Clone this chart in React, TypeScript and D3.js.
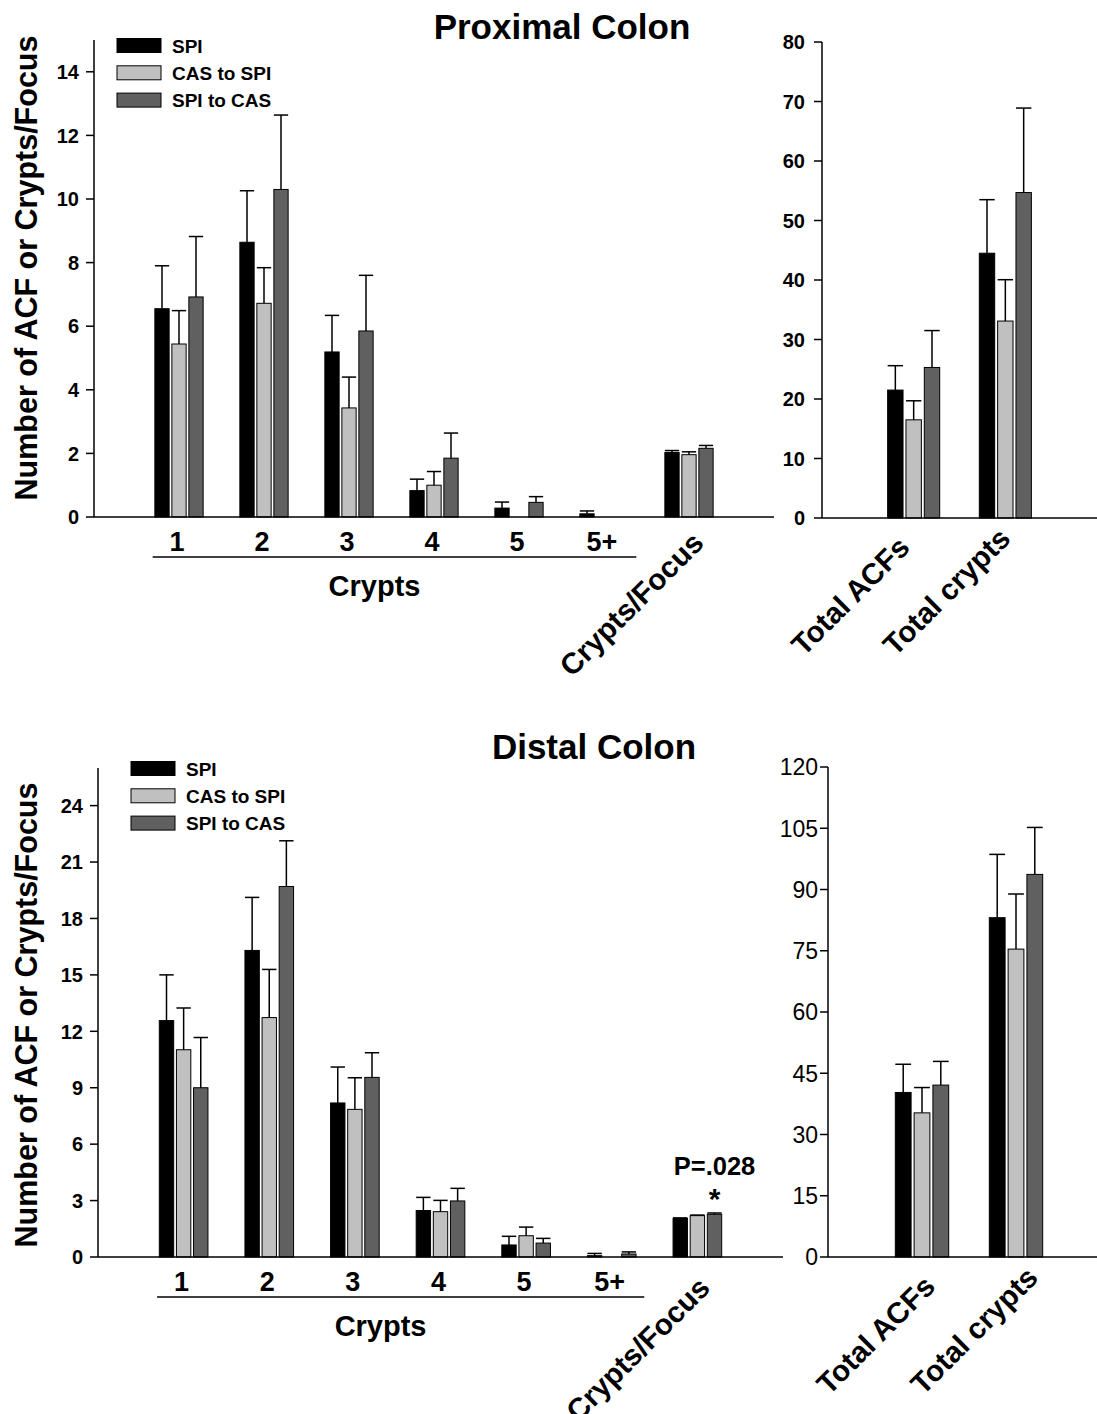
import React from 'react';
import * as d3 from 'd3';

// legend / series
const SERIES = ['SPI', 'CAS to SPI', 'SPI to CAS'];
const FILLS = ['#000000', '#c0c0c0', '#606060'];

// categories
const CRYPT_LABELS = ['1', '2', '3', '4', '5', '5+'];
const FOCUS_LABEL = 'Crypts/Focus';
const TOTAL_LABELS = ['Total ACFs', 'Total crypts'];

// Proximal colon: crypts 1,2,3,4,5,5+ then crypts/focus
const proxSpi = [6.55, 8.64, 5.19, 0.83, 0.28, 0.1, 2.03];
const proxSpiSe = [1.35, 1.62, 1.15, 0.36, 0.19, 0.09, 0.06];
const proxCasSpi = [5.44, 6.72, 3.43, 1.0, 0, 0, 1.96];
const proxCasSpiSe = [1.05, 1.12, 0.97, 0.43, 0, 0, 0.09];
const proxSpiCas = [6.92, 10.3, 5.85, 1.85, 0.46, 0, 2.16];
const proxSpiCasSe = [1.9, 2.34, 1.75, 0.79, 0.18, 0, 0.09];

// Proximal colon totals: ACFs, crypts
const proxTotSpi = [21.5, 44.5];
const proxTotSpiSe = [4.1, 9.0];
const proxTotCasSpi = [16.5, 33.1];
const proxTotCasSpiSe = [3.2, 6.95];
const proxTotSpiCas = [25.3, 54.7];
const proxTotSpiCasSe = [6.2, 14.2];

// Distal colon
const distSpi = [12.57, 16.3, 8.19, 2.47, 0.64, 0.07, 2.05];
const distSpiSe = [2.43, 2.82, 1.91, 0.7, 0.46, 0.12, 0.03];
const distCasSpi = [11.02, 12.73, 7.85, 2.41, 1.13, 0, 2.2];
const distCasSpiSe = [2.22, 2.56, 1.68, 0.6, 0.46, 0, 0.03];
const distSpiCas = [9.0, 19.7, 9.55, 2.98, 0.74, 0.16, 2.27];
const distSpiCasSe = [2.67, 2.43, 1.31, 0.67, 0.25, 0.11, 0.07];

// Distal colon totals
const distTotSpi = [40.3, 83.1];
const distTotSpiSe = [6.9, 15.5];
const distTotCasSpi = [35.3, 75.4];
const distTotCasSpiSe = [6.2, 13.5];
const distTotSpiCas = [42.1, 93.7];
const distTotSpiCasSe = [5.8, 11.5];

// tick values
const proxTicks = [0, 2, 4, 6, 8, 10, 12, 14];
const proxTotTicks = [0, 10, 20, 30, 40, 50, 60, 70, 80];
const distTicks = [0, 3, 6, 9, 12, 15, 18, 21, 24];
const distTotTicks = [0, 15, 30, 45, 60, 75, 90, 105, 120];

const TITLE_TOP = 'Proximal Colon';
const TITLE_BOTTOM = 'Distal Colon';
const Y_LABEL = 'Number of ACF or Crypts/Focus';
const X_LABEL = 'Crypts';
const P_NOTE = 'P=.028';

const FONT = "'Liberation Sans', Arial, Helvetica, sans-serif";

type PanelProps = {
  x0: number; x1: number; slots: number;
  yBase: number; yTop: number; yMax: number;
  ticks: number[];
  means: number[][]; ses: number[][];
  tickBold: boolean; tickFont: number; tickGap: number;
  baseEnd: number;
};

const Panel = ({ x0, x1, slots, yBase, yTop, yMax, ticks, means, ses, tickBold, tickFont, tickGap, baseEnd }: PanelProps) => {
  const x = d3.scaleLinear().domain([0, slots]).range([x0, x1]);
  const y = d3.scaleLinear().domain([0, yMax]).range([yBase, yTop]);
  const slot = x(1) - x(0);
  const step = slot * 0.2;
  const bw = slot * 0.168;

  return (
    <g>
      {/* bars */}
      {means.map((ser, s) =>
        ser.map((v, i) => {
          if (v <= 0) return null;
          const cx = x(i + 1) + (s - 1) * step;
          return (
            <rect key={`b-${s}-${i}`} x={cx - bw / 2} y={y(v)} width={bw} height={y(0) - y(v)}
              fill={FILLS[s]} stroke="#000" strokeWidth={1} />
          );
        })
      )}
      {/* error bars, upper only */}
      {means.map((ser, s) =>
        ser.map((v, i) => {
          const e = ses[s][i];
          if (e <= 0) return null;
          const cx = x(i + 1) + (s - 1) * step;
          return (
            <g key={`e-${s}-${i}`} stroke="#000" strokeWidth={1.5}>
              <line x1={cx} x2={cx} y1={y(v)} y2={y(v + e)} />
              <line x1={cx - bw / 2} x2={cx + bw / 2} y1={y(v + e)} y2={y(v + e)} />
            </g>
          );
        })
      )}
      {/* axes */}
      <line x1={x0} x2={x0} y1={yTop} y2={yBase} stroke="#000" strokeWidth={1.5} />
      <line x1={x0} x2={baseEnd} y1={yBase} y2={yBase} stroke="#000" strokeWidth={1.5} />
      {ticks.map(t => (
        <g key={`t-${t}`}>
          <line x1={x0 - 8} x2={x0} y1={y(t)} y2={y(t)} stroke="#000" strokeWidth={1.5} />
          <text x={x0 - tickGap} y={y(t) + tickFont * 0.36} textAnchor="end"
            fontFamily={FONT} fontWeight={tickBold ? 'bold' : 'normal'} fontSize={tickFont}>{t}</text>
        </g>
      ))}
    </g>
  );
};

const Legend = ({ x, y }: { x: number; y: number }) => (
  <g>
    {SERIES.map((s, i) => (
      <g key={s}>
        <rect x={x} y={y + i * 27.3} width={44} height={14} fill={FILLS[i]} stroke="#000" strokeWidth={1} />
        <text x={x + 55} y={y + i * 27.3 + 14} fontFamily={FONT} fontWeight="bold" fontSize={19}>{s}</text>
      </g>
    ))}
  </g>
);

const Row = ({ top }: { top: boolean }) => {
  const L = top
    ? { x0: 94, x1: 774, yBase: 517, yTop: 40, yMax: 15, ticks: proxTicks, tickGap: 15,
        means: [proxSpi, proxCasSpi, proxSpiCas], ses: [proxSpiSe, proxCasSpiSe, proxSpiCasSe] }
    : { x0: 98, x1: 783, yBase: 1257, yTop: 768, yMax: 26, ticks: distTicks, tickGap: 15,
        means: [distSpi, distCasSpi, distSpiCas], ses: [distSpiSe, distCasSpiSe, distSpiCasSe] };
  const R = top
    ? { x0: 822, x1: 1097, yBase: 518, yTop: 42, yMax: 80, ticks: proxTotTicks, tickGap: 17,
        means: [proxTotSpi, proxTotCasSpi, proxTotSpiCas], ses: [proxTotSpiSe, proxTotCasSpiSe, proxTotSpiCasSe] }
    : { x0: 828, x1: 1110, yBase: 1257, yTop: 767, yMax: 120, ticks: distTotTicks, tickGap: 10,
        means: [distTotSpi, distTotCasSpi, distTotSpiCas], ses: [distTotSpiSe, distTotCasSpiSe, distTotSpiCasSe] };

  const xl = d3.scaleLinear().domain([0, 8]).range([L.x0, L.x1]);
  const xr = d3.scaleLinear().domain([0, 3]).range([R.x0, R.x1]);
  const slot = xl(1) - xl(0);
  const totDx = top ? -110 : -93;
  const focusDx = top ? -117 : -119;
  const focusDy = top ? 161 : 166;

  return (
    <g>
      <Panel x0={L.x0} x1={L.x1} slots={8} yBase={L.yBase} yTop={L.yTop} yMax={L.yMax} ticks={L.ticks}
        means={L.means} ses={L.ses} tickBold tickFont={20} tickGap={L.tickGap} baseEnd={L.x1} />
      <Panel x0={R.x0} x1={R.x1} slots={3} yBase={R.yBase} yTop={R.yTop} yMax={R.yMax} ticks={R.ticks}
        means={R.means} ses={R.ses} tickBold={top} tickFont={top ? 20 : 23} tickGap={R.tickGap} baseEnd={1097} />

      {/* title */}
      <text x={top ? 562 : 594} y={top ? 39 : 759} textAnchor="middle" fontFamily={FONT} fontWeight="bold" fontSize={35}>
        {top ? TITLE_TOP : TITLE_BOTTOM}
      </text>

      {/* y label */}
      <text transform={`translate(37,${top ? 268 : 1015}) rotate(-90)`} textAnchor="middle"
        fontFamily={FONT} fontWeight="bold" fontSize={30.5}>{Y_LABEL}</text>

      <Legend x={top ? 117 : 131} y={top ? 38.5 : 761.5} />

      {/* crypt category labels */}
      {CRYPT_LABELS.map((c, i) => (
        <text key={c} x={xl(i + 1) - 2} y={L.yBase + 34} textAnchor="middle" fontFamily={FONT} fontWeight="bold" fontSize={27}>{c}</text>
      ))}
      <line x1={xl(1) - slot * 0.31} x2={xl(6) + slot * 0.38} y1={L.yBase + 40} y2={L.yBase + 40} stroke="#000" strokeWidth={1.5} />
      <text x={xl(3.3)} y={L.yBase + 79} textAnchor="middle" fontFamily={FONT} fontWeight="bold" fontSize={29}>{X_LABEL}</text>

      {/* rotated labels */}
      <text transform={`translate(${xl(7) + focusDx},${L.yBase + focusDy}) rotate(-45)`} textAnchor="start"
        fontFamily={FONT} fontWeight="bold" fontSize={29.5}>{FOCUS_LABEL}</text>
      {TOTAL_LABELS.map((t, i) => (
        <text key={t} transform={`translate(${xr(i + 1) + totDx},${R.yBase + 139}) rotate(-45)`} textAnchor="start"
          fontFamily={FONT} fontWeight="bold" fontSize={29.5}>{t}</text>
      ))}

      {!top && (
        <g>
          <text x={xl(7) + slot * 0.2} y={1175} textAnchor="middle" fontFamily={FONT} fontWeight="bold" fontSize={25.5}>{P_NOTE}</text>
          <text x={xl(7) + slot * 0.2} y={1209} textAnchor="middle" fontFamily={FONT} fontWeight="bold" fontSize={30}>*</text>
        </g>
      )}
    </g>
  );
};

export default function App() {
  return (
    <div style={{ position: 'absolute', left: 0, top: 0 }}>
      <svg width={1097} height={1414} viewBox="0 0 1097 1414" style={{ display: 'block', background: '#fff' }}>
        <Row top />
        <Row top={false} />
      </svg>
    </div>
  );
}
